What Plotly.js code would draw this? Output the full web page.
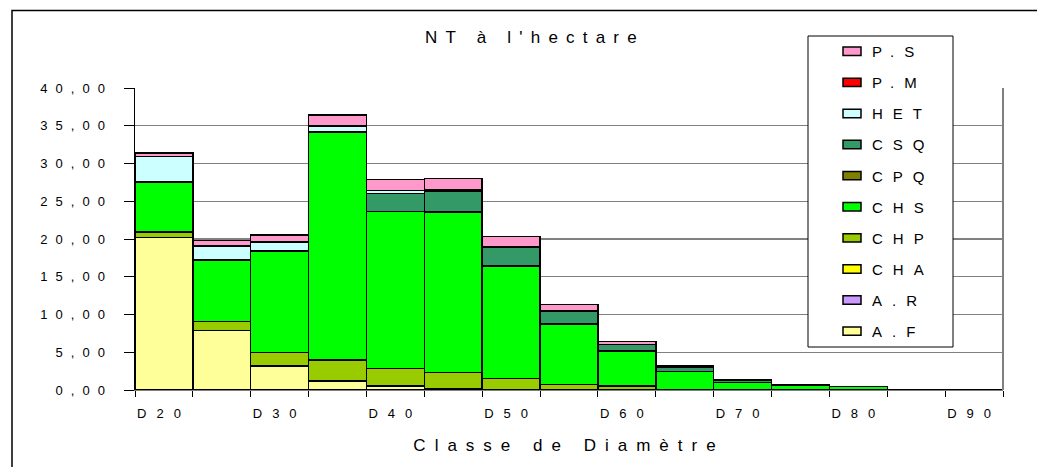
<!DOCTYPE html>
<html>
<head>
<meta charset="utf-8">
<script src="https://cdn.plot.ly/plotly-3.0.1.min.js"></script>
<style>
  html, body { margin: 0; padding: 0; background: #fff; }
  #chart { width: 1037px; height: 467px; }
  .ytick text { letter-spacing: 8px; }
  .xtick text { letter-spacing: 10px; }
  .gtitle { letter-spacing: 8.2px; }
  .xtitle { letter-spacing: 9px; }
  .legendtext { letter-spacing: 10px; }
</style>
</head>
<body>
<div id="chart"></div>
<script>
// Diameter classes
const categories = ['D20','D25','D30','D35','D40','D45','D50','D55','D60','D65','D70','D75','D80','D85','D90'];
const tickLabels = ['D20','','D30','','D40','','D50','','D60','','D70','','D80','','D90'];

// Series (stems per hectare), bottom to top of stack
const seriesNames = ['A.F','A.R','CHA','CHP','CHS','CPQ','CSQ','HET','P.M','P.S'];
const AF  = [20.2, 7.9, 3.2, 1.2, 0.5, 0.2, 0.05, 0, 0, 0, 0, 0, 0, 0, 0];
const AR  = [0, 0, 0, 0, 0, 0, 0, 0, 0, 0, 0, 0, 0, 0, 0];
const CHA = [0, 0, 0, 0, 0, 0, 0, 0, 0, 0, 0, 0, 0, 0, 0];
const CHP = [0.75, 1.15, 1.8, 2.75, 2.35, 2.1, 1.5, 0.75, 0.5, 0.1, 0.05, 0, 0, 0, 0];
const CHS = [6.6, 8.15, 13.4, 30.25, 20.8, 21.25, 14.85, 8.0, 4.65, 2.35, 0.95, 0.65, 0.45, 0.05, 0];
const CPQ = [0, 0, 0, 0, 0, 0, 0, 0, 0, 0, 0, 0, 0, 0, 0];
const CSQ = [0, 0, 0, 0, 2.35, 2.8, 2.55, 1.7, 0.9, 0.6, 0.35, 0.05, 0, 0, 0];
const HET = [3.4, 1.85, 1.2, 0.8, 0.45, 0.2, 0.05, 0, 0, 0, 0, 0, 0, 0, 0];
const PM  = [0, 0, 0, 0, 0, 0, 0, 0, 0, 0, 0, 0, 0, 0, 0];
const PS  = [0.45, 0.75, 0.9, 1.45, 1.45, 1.45, 1.3, 0.85, 0.4, 0.1, 0, 0, 0, 0, 0];
const seriesValues = [AF, AR, CHA, CHP, CHS, CPQ, CSQ, HET, PM, PS];
const seriesColors = ['#FFFF99','#CC99FF','#FFFF00','#99CC00','#00FF00','#808000','#339966','#CCFFFF','#FF0000','#FF99CC'];

const FONT = '"Liberation Sans", Arial, sans-serif';

const traces = seriesNames.map((name, i) => ({
  type: 'bar',
  name: name,
  legendgroup: name,
  legendrank: 100 - i,
  x: categories,
  y: seriesValues[i],
  marker: { color: seriesColors[i], line: { color: '#000000', width: 1.5 } },
  hoverinfo: 'x+y+name'
}));

// plot area in px: x 135..1003, y 88..390
const L = 135, R = 1003, T = 88, B = 390, W = R - L, H = B - T;
const px = v => (v - L) / W;
const py = v => (B - v) / H;

const layout = {
  width: 1037, height: 467,
  margin: { l: L, r: 1037 - R, t: T, b: 467 - B, pad: 0 },
  paper_bgcolor: '#ffffff', plot_bgcolor: '#ffffff',
  separators: ', ',
  font: { family: FONT, color: '#000000', size: 13 },
  barmode: 'stack', bargap: 0,
  title: {
    text: "NT à l'hectare",
    font: { family: FONT, size: 17, color: '#000000' },
    xref: 'paper', x: px(535), xanchor: 'center',
    yref: 'container', y: 1 - 37 / 467, yanchor: 'middle'
  },
  xaxis: {
    type: 'category',
    categoryorder: 'array', categoryarray: categories,
    tickvals: categories, ticktext: tickLabels,
    tickson: 'boundaries',
    ticks: 'outside', ticklen: 6, tickcolor: '#000000', tickwidth: 1,
    ticklabelstandoff: 11,
    showline: true, linecolor: '#808080', linewidth: 1,
    showgrid: false, zeroline: false,
    range: [-0.5, 14.5],
    tickfont: { family: FONT, size: 13, color: '#000000' },
    title: { text: 'Classe de Diamètre', font: { family: FONT, size: 17, color: '#000000' }, standoff: 19 },
    automargin: false
  },
  yaxis: {
    range: [0, 40], dtick: 5, tick0: 0, tickformat: '.2f',
    ticks: 'outside', ticklen: 10, tickcolor: '#000000', tickwidth: 1,
    ticklabelstandoff: 8,
    showline: true, linecolor: '#000000', linewidth: 1.5,
    showgrid: true, gridcolor: '#808080', gridwidth: 1.3,
    zeroline: false,
    tickfont: { family: FONT, size: 13, color: '#000000' },
    automargin: false
  },
  legend: {
    traceorder: 'grouped',
    tracegroupgap: 8.6,
    x: px(832), xanchor: 'left',
    y: py(35), yanchor: 'top',
    maxheight: 420,
    bgcolor: 'rgba(0,0,0,0)', borderwidth: 0,
    font: { family: FONT, size: 15, color: '#000000' },
    itemwidth: 30
  },
  shapes: [
    // outer chart frame (left and top visible)
    { type: 'path', xref: 'paper', yref: 'paper',
      path: `M ${px(12)} ${py(480)} L ${px(12)} ${py(10.5)} L ${px(1100)} ${py(10.5)}`,
      line: { color: '#000000', width: 1.5 }, layer: 'above' },
    // right plot border
    { type: 'line', xref: 'paper', yref: 'paper', x0: 1, x1: 1, y0: 0, y1: 1,
      line: { color: '#808080', width: 2 }, layer: 'above' },
    // legend box
    { type: 'rect', xref: 'paper', yref: 'paper',
      x0: px(808), x1: px(953), y0: py(347), y1: py(36),
      fillcolor: '#ffffff', line: { color: '#000000', width: 1 }, layer: 'above' }
  ]
};

Plotly.newPlot('chart', traces, layout, { displayModeBar: false, staticPlot: true }).then(gd => {
  // widen legend swatches into flat rectangles like the original
  gd.querySelectorAll('.legend .legendpoints path').forEach(p => {
    const t = p.getAttribute('transform') || '';
    p.setAttribute('transform', t + ' scale(1.5,0.7)');
    p.setAttribute('vector-effect', 'non-scaling-stroke');
  });
});
</script>
</body>
</html>
